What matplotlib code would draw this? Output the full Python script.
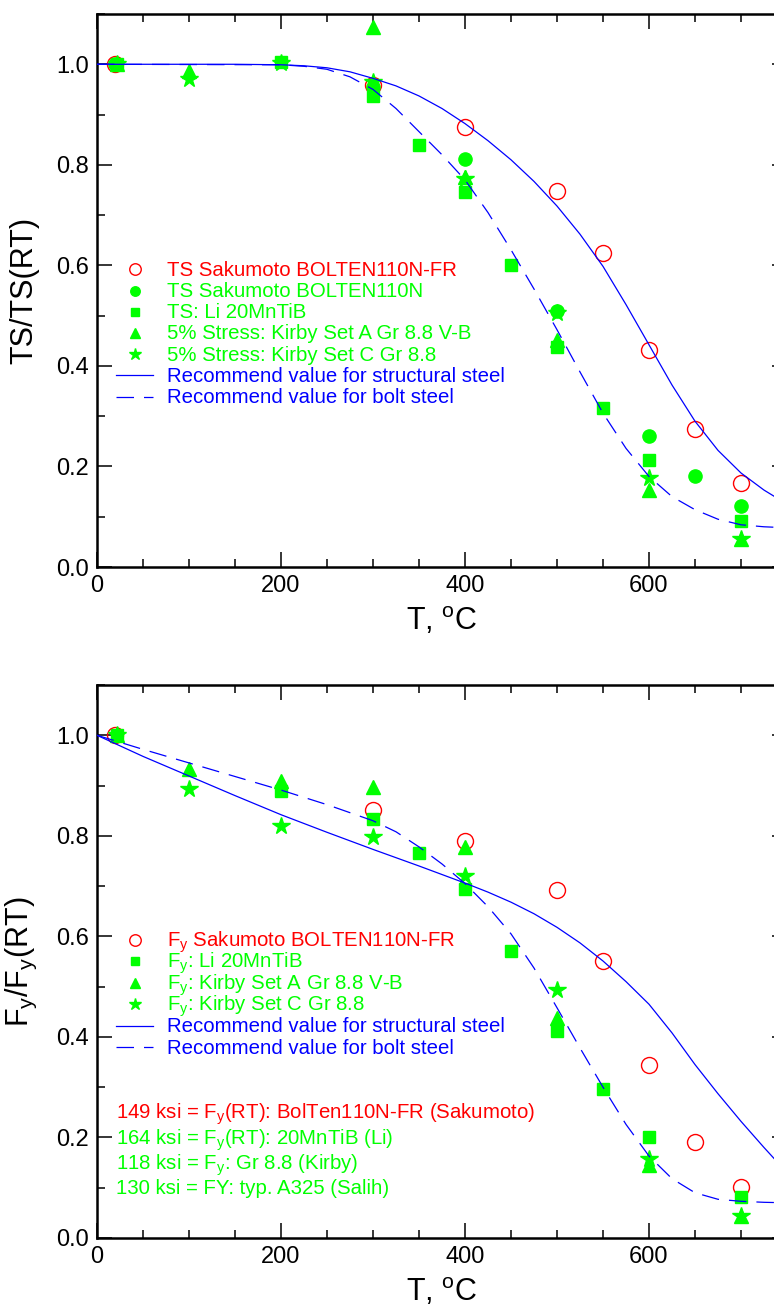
import numpy as np
import matplotlib
matplotlib.use("Agg")
import matplotlib.pyplot as plt
from matplotlib.ticker import MultipleLocator

plt.rcParams['font.family'] = ['Liberation Sans', 'DejaVu Sans']
plt.rcParams['mathtext.fontset'] = 'custom'
plt.rcParams['mathtext.rm'] = 'Liberation Sans'
plt.rcParams['mathtext.it'] = 'Liberation Sans:italic'

RED = '#ff0000'
GREEN = '#00ff00'
BLUE = '#0000ff'

# ---- top panel: tensile strength ratio ----
ts_fr_T = [20, 300, 400, 500, 550, 600, 650, 700]
ts_fr = [1.0, 0.958, 0.875, 0.748, 0.624, 0.432, 0.275, 0.167]

ts_n_T = [20, 300, 400, 500, 600, 650, 700]
ts_n = [1.0, 0.955, 0.811, 0.510, 0.261, 0.181, 0.121]

ts_li_T = [22, 200, 300, 350, 400, 450, 500, 550, 600, 700]
ts_li = [1.0, 1.005, 0.937, 0.839, 0.745, 0.600, 0.438, 0.317, 0.213, 0.092]

ts_ka_T = [22, 100, 300, 400, 500, 600, 700]
ts_ka = [1.0, 0.987, 1.075, 0.775, 0.452, 0.153, 0.056]

ts_kc_T = [22, 100, 200, 300, 400, 500, 600, 700]
ts_kc = [1.0, 0.970, 1.002, 0.965, 0.771, 0.506, 0.178, 0.056]

ts_struct_T = [0, 150, 200, 225, 250, 275, 300, 325, 350, 375, 400, 425, 450, 475, 500,
               525, 550, 575, 600, 625, 650, 675, 700, 725, 750]
ts_struct = [1.0, 1.0, 0.999, 0.997, 0.993, 0.985, 0.972, 0.957, 0.937, 0.912, 0.882,
             0.848, 0.810, 0.767, 0.718, 0.662, 0.598, 0.522, 0.442, 0.362, 0.290,
             0.232, 0.187, 0.153, 0.125]

ts_bolt_T = [0, 200, 225, 250, 275, 300, 325, 350, 375, 400, 425, 450, 475, 500, 525,
             550, 575, 600, 625, 650, 675, 700, 725, 750]
ts_bolt = [1.0, 0.999, 0.996, 0.990, 0.975, 0.950, 0.912, 0.866, 0.820, 0.770, 0.705,
           0.631, 0.553, 0.472, 0.388, 0.306, 0.236, 0.180, 0.140, 0.114, 0.095, 0.084,
           0.080, 0.078]

# ---- bottom panel: yield strength ratio ----
fy_fr_T = [20, 300, 400, 500, 550, 600, 650, 700]
fy_fr = [1.0, 0.851, 0.790, 0.692, 0.551, 0.344, 0.191, 0.102]

fy_li_T = [22, 200, 300, 350, 400, 450, 500, 550, 600, 700]
fy_li = [1.0, 0.889, 0.834, 0.766, 0.694, 0.571, 0.412, 0.296, 0.200, 0.081]

fy_ka_T = [22, 100, 200, 300, 400, 500, 600, 700]
fy_ka = [1.0, 0.933, 0.909, 0.897, 0.778, 0.438, 0.146, 0.043]

fy_kc_T = [22, 100, 200, 300, 400, 500, 600, 700]
fy_kc = [1.0, 0.894, 0.819, 0.798, 0.720, 0.494, 0.158, 0.044]

fy_struct_T = [0, 50, 100, 150, 200, 250, 300, 350, 400, 425, 450, 475, 500, 525, 550,
               575, 600, 625, 650, 675, 700, 725, 750]
fy_struct = [1.0, 0.958, 0.919, 0.880, 0.842, 0.807, 0.773, 0.740, 0.706, 0.688, 0.668,
             0.645, 0.618, 0.587, 0.551, 0.510, 0.465, 0.408, 0.345, 0.287, 0.232,
             0.180, 0.130]

fy_bolt_T = [0, 50, 100, 150, 200, 250, 300, 325, 350, 375, 400, 425, 450, 475, 500,
             525, 550, 575, 600, 625, 650, 675, 700, 725, 750]
fy_bolt = [1.0, 0.972, 0.945, 0.918, 0.891, 0.862, 0.830, 0.808, 0.778, 0.744, 0.705,
           0.659, 0.605, 0.537, 0.458, 0.378, 0.300, 0.226, 0.163, 0.118, 0.090, 0.077,
           0.073, 0.071, 0.070]

notes = [r'149 ksi = F$_\mathrm{y}$(RT): BolTen110N-FR (Sakumoto)',
         r'164 ksi = F$_\mathrm{y}$(RT): 20MnTiB (Li)',
         r'118 ksi = F$_\mathrm{y}$: Gr 8.8 (Kirby)',
         '130 ksi = FY: typ. A325 (Salih)']
note_colors = [RED, GREEN, GREEN, GREEN]
note_y = [0.237, 0.185, 0.135, 0.0875]

FS_TICK = 17
FS_LABEL = 22
FS_LEG = 14.7
DASH = (14, 8)
KEY = 0.72  # legend marker scale

# marker / line styles: (style, data marker size)
open_circ = (dict(marker='o', mfc='none', mec=RED, mew=1.0), 11.5)
fill_circ = (dict(marker='o', color=GREEN), 9.5)
square = (dict(marker='s', color=GREEN), 8.5)
tri = (dict(marker='^', color=GREEN), 10)
star = (dict(marker='*', color=GREEN), 13)
solid = dict(color=BLUE, lw=0.9)
dashed = dict(color=BLUE, lw=0.9, dashes=DASH)

fig = plt.figure(figsize=(7.74, 13.07), dpi=100)
ax1 = fig.add_axes([97 / 774, (1307 - 567) / 1307, 690 / 774, 553 / 1307])
ax2 = fig.add_axes([97 / 774, (1307 - 1238) / 1307, 690 / 774, 553 / 1307])


def style_axes(ax):
    ax.set_xlim(0, 750)
    ax.set_ylim(0, 1.1)
    ax.xaxis.set_major_locator(MultipleLocator(200))
    ax.xaxis.set_minor_locator(MultipleLocator(50))
    ax.yaxis.set_major_locator(MultipleLocator(0.2))
    ax.yaxis.set_minor_locator(MultipleLocator(0.1))
    ax.yaxis.set_major_formatter(plt.FormatStrFormatter('%.1f'))
    ax.tick_params(which='both', direction='in', top=True, right=True, width=1.1,
                   labelsize=FS_TICK, pad=6)
    ax.tick_params(which='major', length=11)
    ax.tick_params(which='minor', length=6)
    for s in ax.spines.values():
        s.set_linewidth(1.8)
    ax.set_xlabel(r'T, $^\mathrm{o}$C', fontsize=FS_LABEL, labelpad=6)


def plot_pts(ax, T, v, st):
    style, ms = st
    ax.plot(T, v, linestyle='none', ms=ms, zorder=3, **style)


def draw_key(ax, entries, y0, dy):
    # hand-placed key so rows keep even spacing with subscripted labels
    for i, (label, color, st) in enumerate(entries):
        y = y0 - i * dy
        if isinstance(st, tuple):
            style, ms = st
            ax.plot([0.0551], [y], transform=ax.transAxes, linestyle='none',
                    ms=ms * KEY, **style)
        else:
            ax.plot([0.0275, 0.0812], [y, y], transform=ax.transAxes, **st)
        ax.text(0.1014, y - 0.0116, label, color=color, fontsize=FS_LEG,
                transform=ax.transAxes, va='baseline', ha='left')


# top
plot_pts(ax1, ts_fr_T, ts_fr, open_circ)
plot_pts(ax1, ts_n_T, ts_n, fill_circ)
plot_pts(ax1, ts_li_T, ts_li, square)
plot_pts(ax1, ts_ka_T, ts_ka, tri)
plot_pts(ax1, ts_kc_T, ts_kc, star)
ax1.plot(ts_struct_T, ts_struct, zorder=4, **solid)
ax1.plot(ts_bolt_T, ts_bolt, zorder=4, **dashed)
style_axes(ax1)
ax1.set_ylabel('TS/TS(RT)', fontsize=FS_LABEL, labelpad=12)
draw_key(ax1, [('TS Sakumoto BOLTEN110N-FR', RED, open_circ),
               ('TS Sakumoto BOLTEN110N', GREEN, fill_circ),
               ('TS: Li 20MnTiB', GREEN, square),
               ('5% Stress: Kirby Set A Gr 8.8 V-B', GREEN, tri),
               ('5% Stress: Kirby Set C Gr 8.8', GREEN, star),
               ('Recommend value for structural steel', BLUE, solid),
               ('Recommend value for bolt steel', BLUE, dashed)],
         y0=0.538, dy=0.0383)

# bottom
plot_pts(ax2, fy_fr_T, fy_fr, open_circ)
plot_pts(ax2, fy_li_T, fy_li, square)
plot_pts(ax2, fy_ka_T, fy_ka, tri)
plot_pts(ax2, fy_kc_T, fy_kc, star)
ax2.plot(fy_struct_T, fy_struct, zorder=4, **solid)
ax2.plot(fy_bolt_T, fy_bolt, zorder=4, **dashed)
style_axes(ax2)
ax2.set_ylabel(r'F$_\mathrm{y}$/F$_\mathrm{y}$(RT)', fontsize=FS_LABEL, labelpad=12)
draw_key(ax2, [(r'F$_\mathrm{y}$ Sakumoto BOLTEN110N-FR', RED, open_circ),
               (r'F$_\mathrm{y}$: Li 20MnTiB', GREEN, square),
               (r'F$_\mathrm{y}$: Kirby Set A Gr 8.8 V-B', GREEN, tri),
               (r'F$_\mathrm{y}$: Kirby Set C Gr 8.8', GREEN, star),
               ('Recommend value for structural steel', BLUE, solid),
               ('Recommend value for bolt steel', BLUE, dashed)],
         y0=0.539, dy=0.0389)

for txt, c, y in zip(notes, note_colors, note_y):
    ax2.text(21, y, txt, color=c, fontsize=FS_LEG, va='baseline', ha='left')

fig.savefig('out.png', dpi=100)
